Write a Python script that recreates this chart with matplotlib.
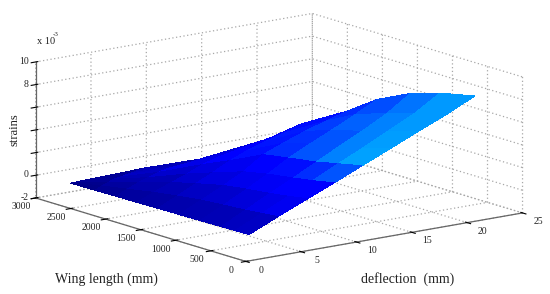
import matplotlib
matplotlib.use("Agg")
import matplotlib.pyplot as plt
import numpy as np
from mpl_toolkits.mplot3d import proj3d

plt.rcParams["font.family"] = ["Liberation Serif", "DejaVu Serif"]

# wing stations (mm), one column per station
wing_length = [2550, 2200, 1900, 1600, 1300, 1000, 700, 400, 200, 0]

# deflection (mm), one row per load step
deflection = [
    [0.3, 0.3, 0.3, 0.3, 0.3, 0.3, 0.3, 0.3, 0.3, 0.3],
    [0.3, 0.9, 1.3, 1.8, 2.0, 2.3, 2.4, 2.5, 2.7, 2.9],
    [0.3, 1.5, 2.3, 3.4, 3.7, 4.3, 4.5, 4.7, 5.1, 5.6],
    [0.3, 2.0, 3.2, 4.8, 5.2, 6.1, 6.4, 6.8, 7.3, 8.0],
    [0.3, 2.6, 4.1, 6.2, 6.8, 7.9, 8.3, 8.9, 9.6, 10.5],
    [0.3, 3.1, 5.0, 7.6, 8.3, 9.7, 10.2, 10.9, 11.8, 13.0],
    [0.3, 3.7, 6.0, 9.1, 9.9, 11.6, 12.2, 13.0, 14.1, 15.5],
    [0.3, 4.2, 7.0, 10.6, 11.6, 13.6, 14.3, 15.3, 16.5, 18.2],
    [0.3, 4.8, 7.9, 12.1, 13.2, 15.5, 16.3, 17.4, 18.8, 20.7],
]

# strains (x 10^-3), same shape
strains = [
    [0.1, 0.12, 0.15, 0.17, 0.2, 0.22, 0.25, 0.27, 0.3, 0.32],
    [0.1, 0.4, 0.6, 0.8, 1.0, 1.15, 1.25, 1.35, 1.4, 1.45],
    [0.1, 0.6, 1.0, 1.4, 1.8, 2.1, 2.3, 2.45, 2.5, 2.57],
    [0.1, 0.8, 1.3, 1.9, 2.5, 3.0, 3.3, 3.45, 3.5, 3.57],
    [0.1, 0.9, 1.6, 2.5, 3.3, 4.2, 4.4, 4.5, 4.6, 4.64],
    [0.1, 1.0, 1.8, 2.9, 3.9, 4.9, 5.3, 5.5, 5.6, 5.7],
    [0.1, 1.1, 1.9, 3.2, 4.4, 5.6, 6.2, 6.5, 6.7, 6.77],
    [0.1, 1.2, 2.0, 3.5, 4.9, 6.2, 7.2, 7.7, 7.85, 7.9],
    [0.1, 1.32, 2.14, 3.75, 5.44, 6.75, 8.2, 9.1, 9.26, 9.06],
]

# colour of each cell, as a position in the jet map
cell_shade = [
    [0.01, 0.02, 0.03, 0.035, 0.04, 0.045, 0.05, 0.055, 0.06],
    [0.015, 0.03, 0.04, 0.05, 0.06, 0.07, 0.08, 0.09, 0.10],
    [0.02, 0.04, 0.05, 0.07, 0.085, 0.095, 0.105, 0.11, 0.12],
    [0.02, 0.05, 0.07, 0.085, 0.10, 0.12, 0.14, 0.17, 0.21],
    [0.02, 0.06, 0.09, 0.115, 0.14, 0.17, 0.21, 0.25, 0.285],
    [0.02, 0.055, 0.09, 0.12, 0.145, 0.175, 0.21, 0.25, 0.28],
    [0.02, 0.05, 0.085, 0.115, 0.15, 0.185, 0.22, 0.25, 0.275],
    [0.02, 0.05, 0.08, 0.105, 0.14, 0.17, 0.20, 0.24, 0.275],
]

x_ticks = [0, 5, 10, 15, 20, 25]
y_ticks = [0, 500, 1000, 1500, 2000, 2500, 3000]
z_ticks = [-2, 0, 2, 4, 6, 8, 10]
z_labels = ["-2", "0", "", "", "", "8", "10"]

TEXT = "#222222"

fig = plt.figure(figsize=(5.5, 2.94), dpi=100)
ax = fig.add_axes([0.0444, -0.3335, 0.9017, 1.6864], projection="3d", proj_type="ortho")
ax.patch.set_alpha(0)

X = np.array(deflection)
Y = np.tile(wing_length, (len(deflection), 1))
Z = np.array(strains)
ax.plot_surface(X, Y, Z, facecolors=plt.cm.jet(np.array(cell_shade)), rstride=1, cstride=1,
                linewidth=0, antialiased=False, shade=False)

ax.set_xlim(0, 25, view_margin=0)
ax.set_ylim(0, 3000, view_margin=0)
ax.set_zlim(-2, 10, view_margin=0)
ax.set_box_aspect((351, 350, 141), zoom=1.0)
ax.view_init(elev=13.3, azim=-127.3)

ax.set_xticks(x_ticks)
ax.set_yticks(y_ticks)
ax.set_zticks(z_ticks)
ax.set_xticklabels([])
ax.set_yticklabels([])
ax.set_zticklabels([])

for axis in (ax.xaxis, ax.yaxis, ax.zaxis):
    axis.pane.set_facecolor((1, 1, 1, 0))
    axis.pane.set_edgecolor((1, 1, 1, 0))
    axis.line.set_color("#666666")
    axis.line.set_linewidth(0.9)
    axis._axinfo["grid"].update(color="#a8a8a8", linestyle=(0, (1, 2)), linewidth=0.9)
    axis._axinfo["tick"].update(color="#555555")


def tick_text(x, y, z, label, ha="center"):
    # tick labels sit closer to the axes than the 3d tick pad allows
    px, py, _ = proj3d.proj_transform(x, y, z, ax.get_proj())
    ax.text2D(px, py, label, fontsize=7, color=TEXT, ha=ha, va="center", transform=ax.transData)


for t in x_ticks:
    tick_text(t, -220, -2.35, str(t))
for t in y_ticks:
    tick_text(-1.3, t, -2.55, str(t))
for t, lab in zip(z_ticks, z_labels):
    if lab:
        tick_text(-0.6, 3000, t + 0.15, lab, ha="right")

fig.text(55 / 550, 1 - 279 / 294, "Wing length (mm)", fontsize=10, va="center", color=TEXT)
fig.text(361 / 550, 1 - 279 / 294, "deflection  (mm)", fontsize=10, va="center", color=TEXT)
fig.text(14 / 550, 1 - 130 / 294, "strains", fontsize=9, rotation=90, ha="center", va="center", color=TEXT)
fig.text(37 / 550, 1 - 42 / 294, "x 10", fontsize=7.5, va="center", color=TEXT)
fig.text(53 / 550, 1 - 35 / 294, "-3", fontsize=5, va="center", color=TEXT)

fig.savefig("out.png", dpi=100)
